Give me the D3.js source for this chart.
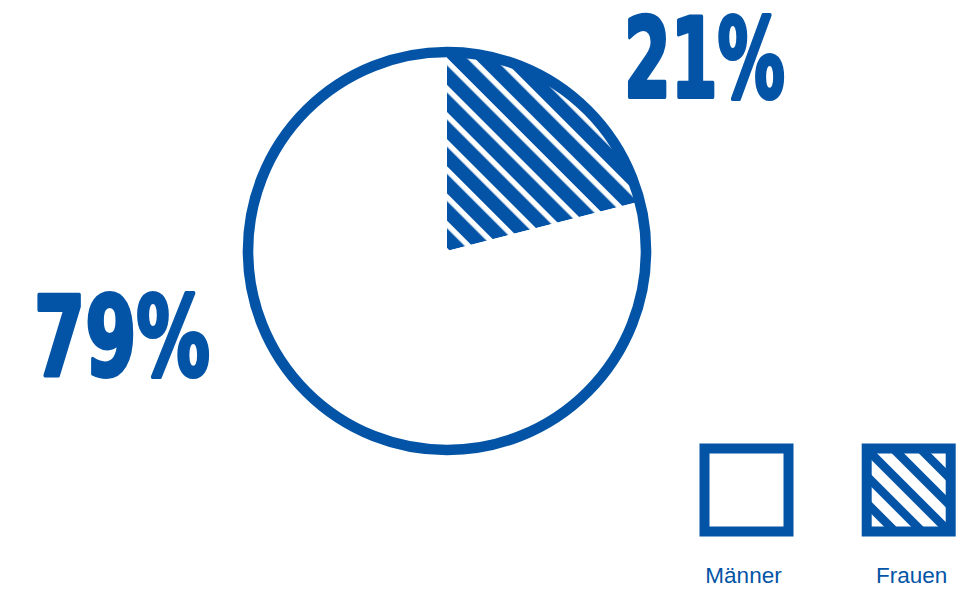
<!DOCTYPE html>
<html>
<head>
<meta charset="utf-8">
<script src="https://cdn.jsdelivr.net/npm/d3@7"></script>
<style>
  html, body { margin: 0; padding: 0; background: #fff; }
  svg { display: block; }
</style>
</head>
<body>
<svg id="viz-pie" width="976" height="590"></svg>
<script>
// data
var categories = ['Frauen', 'Männer'];
var shares = [21, 79];
var shareLabels = ['21%', '79%'];
var legendOrder = ['Männer', 'Frauen'];

var blue = '#0354a6';

var svg = d3.select('#viz-pie'),
  cx = 447,
  cy = 251,
  r = 199;

var defs = svg.append('defs');

// hatching for the pie slice
defs
  .append('pattern')
  .attr('id', 'hatch-pie')
  .attr('patternUnits', 'userSpaceOnUse')
  .attr('x', 2.3)
  .attr('y', 0)
  .attr('width', 19.2)
  .attr('height', 19.2)
  .attr('patternTransform', 'rotate(-45)')
  .append('rect')
  .attr('width', 13.8)
  .attr('height', 19.2)
  .attr('fill', blue);

// legend hatch has wider white gaps
defs
  .append('pattern')
  .attr('id', 'hatch-legend')
  .attr('patternUnits', 'userSpaceOnUse')
  .attr('x', 11.3)
  .attr('y', 0)
  .attr('width', 19.1)
  .attr('height', 19.1)
  .attr('patternTransform', 'rotate(-45)')
  .append('rect')
  .attr('width', 8.6)
  .attr('height', 19.1)
  .attr('fill', blue);

var fill = d3
  .scaleOrdinal()
  .domain(categories)
  .range(['url(#hatch-pie)', '#fff']);

var pie = d3
  .pie()
  .sort(null)
  .value(function(d) {
    return d.value;
  });

var data = categories.map(function(c, i) {
  return { name: c, value: shares[i], label: shareLabels[i] };
});

var arc = d3
  .arc()
  .innerRadius(0)
  .outerRadius(r);

var g = svg
  .append('g')
  .attr('transform', 'translate(' + cx + ',' + cy + ')');

g
  .selectAll('path.slice')
  .data(pie(data))
  .enter()
  .append('path')
  .attr('class', 'slice')
  .attr('d', arc)
  .attr('fill', function(d) {
    return fill(d.data.name);
  });

g
  .append('circle')
  .attr('r', r)
  .attr('fill', 'none')
  .attr('stroke', blue)
  .attr('stroke-width', 10.6);

// big percentage labels
var labelPos = {
  Frauen: { x: 624, y: 97, w: 161 },
  Männer: { x: 34, y: 375, w: 176 }
};

svg
  .selectAll('text.pct')
  .data(data)
  .enter()
  .append('text')
  .attr('class', 'pct')
  .attr('x', function(d) {
    return labelPos[d.name].x;
  })
  .attr('y', function(d) {
    return labelPos[d.name].y;
  })
  .attr('textLength', function(d) {
    return labelPos[d.name].w;
  })
  .attr('lengthAdjust', 'spacingAndGlyphs')
  .style('font-family', '"Liberation Sans Narrow", "DejaVu Sans Condensed", sans-serif')
  .style('font-weight', 'bold')
  .style('font-size', '110px')
  .attr('fill', blue)
  .attr('stroke', blue)
  .attr('stroke-width', 4)
  .attr('stroke-linejoin', 'round')
  .text(function(d) {
    return d.label;
  });

// legend
var lx = d3
  .scalePoint()
  .domain(legendOrder)
  .range([746.5, 908.7]);

var box = 84;

var legend = svg
  .selectAll('g.legend')
  .data(legendOrder)
  .enter()
  .append('g')
  .attr('class', 'legend')
  .attr('transform', function(d) {
    return 'translate(' + lx(d) + ',0)';
  });

legend
  .append('rect')
  .attr('x', -box / 2)
  .attr('y', 448.5)
  .attr('width', box)
  .attr('height', box - 1)
  .attr('fill', function(d) {
    return d === 'Frauen' ? 'url(#hatch-legend)' : '#fff';
  })
  .attr('stroke', blue)
  .attr('stroke-width', 10);

legend
  .append('text')
  .attr('x', function(d) {
    return d === 'Frauen' ? 3 : -3;
  })
  .attr('y', 583)
  .attr('text-anchor', 'middle')
  .style('font-family', '"Liberation Sans", Arial, sans-serif')
  .style('font-size', '22.5px')
  .attr('fill', blue)
  .text(function(d) {
    return d;
  });
</script>
</body>
</html>
